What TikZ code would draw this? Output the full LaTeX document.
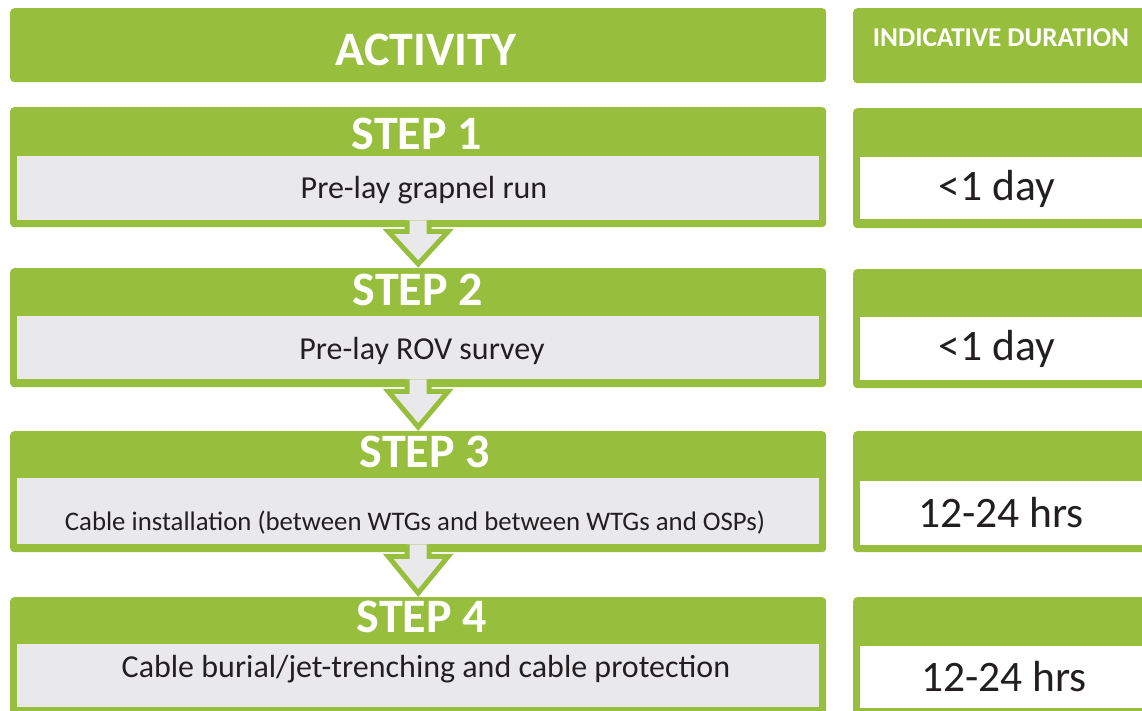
\documentclass[tikz,border=0pt]{standalone}
\usepackage{fontspec}
\setmainfont{Carlito}
\usetikzlibrary{calc}
\definecolor{grn}{HTML}{97BF3D}
\definecolor{lgray}{HTML}{E9E9EB}
\definecolor{txt}{HTML}{231F20}
\begin{document}
\begin{tikzpicture}[x=1pt,y=-1pt,
  greenbox/.style={fill=grn, rounded corners=4pt, inner sep=0pt, anchor=north west},
  graybody/.style={fill=lgray, inner sep=0pt, anchor=north west},
  whitebody/.style={fill=white, inner sep=0pt, anchor=north west},
  headtxt/.style={text=white, inner sep=0pt, font=\bfseries\fontsize{48}{52}\selectfont},
  bodytxt/.style={text=txt, inner sep=0pt, font=\fontsize{32}{36}\selectfont},
  durtxt/.style={text=txt, inner sep=0pt, font=\fontsize{43.5}{48}\selectfont},
  flowarrow/.style={fill=lgray, draw=grn, line width=5pt, line join=miter}]
\useasboundingbox (0,0) rectangle (1142,711);
\clip (0,0) rectangle (1142,711);
\fill[white] (0,0) rectangle (1142,711);

% column headers
\node[greenbox, minimum width=816pt, minimum height=74pt] (acth) at (10,8) {};
\node[headtxt] (actt) at (426,50) {ACTIVITY};
\node[greenbox, minimum width=310pt, minimum height=75pt] (durh) at (853,8) {};
\node[text=white, inner sep=0pt, font=\bfseries\fontsize{27.2}{30}\selectfont] (durt) at (1001,38) {INDICATIVE DURATION};

% step 1
\node[greenbox, minimum width=816pt, minimum height=120pt] (s1) at (10,107) {};
\node[graybody, minimum width=802pt, minimum height=64pt] (s1b) at (17,156) {};
\node[headtxt] (s1h) at (417,134) {STEP 1};
\node[bodytxt] (s1t) at (424,190) {Pre-lay grapnel run};
\node[greenbox, minimum width=310pt, minimum height=120pt] (r1) at (853,108) {};
\node[whitebody, minimum width=300pt, minimum height=62pt] (r1b) at (860,157) {};
\node[durtxt] (r1t) at (997,189) {<1 day};

% step 2
\node[greenbox, minimum width=816pt, minimum height=119pt] (s2) at (10,268) {};
\node[graybody, minimum width=802pt, minimum height=63pt] (s2b) at (17,316) {};
\node[headtxt] (s2h) at (418,290) {STEP 2};
\node[bodytxt] (s2t) at (422,351) {Pre-lay ROV survey};
\node[greenbox, minimum width=310pt, minimum height=119pt] (r2) at (853,269) {};
\node[whitebody, minimum width=300pt, minimum height=63pt] (r2b) at (860,317) {};
\node[durtxt] (r2t) at (997,349) {<1 day};

% step 3
\node[greenbox, minimum width=816pt, minimum height=121pt] (s3) at (10,431) {};
\node[graybody, minimum width=802pt, minimum height=66pt] (s3b) at (17,478) {};
\node[headtxt] (s3h) at (425,452) {STEP 3};
\node[text=txt, inner sep=0pt, font=\fontsize{26.8}{30}\selectfont] (s3t) at (415,523) {Cable installation (between WTGs and between WTGs and OSPs)};
\node[greenbox, minimum width=310pt, minimum height=121pt] (r3) at (853,431) {};
\node[whitebody, minimum width=300pt, minimum height=64pt] (r3b) at (860,481) {};
\node[durtxt] (r3t) at (1001,513) {12-24 hrs};

% step 4
\node[greenbox, minimum width=816pt, minimum height=120pt] (s4) at (10,597) {};
\node[graybody, minimum width=802pt, minimum height=63pt] (s4b) at (17,644) {};
\node[headtxt] (s4h) at (422,617) {STEP 4};
\node[bodytxt] (s4t) at (426,669) {Cable burial/jet-trenching and cable protection};
\node[greenbox, minimum width=310pt, minimum height=120pt] (r4) at (853,597) {};
\node[whitebody, minimum width=300pt, minimum height=62pt] (r4b) at (860,646) {};
\node[durtxt] (r4t) at (1004,677) {12-24 hrs};

% block arrows between steps
\foreach \a/\b/\c in {s1b/s1/s2, s2b/s2/s3, s3b/s3/s4}{
  \path[flowarrow] let \p1=(\a.south), \p2=(\b.south), \p3=(\c.north) in
    (\x1-11pt,\y1) -- (\x1-11pt,\y2-4pt) -- (\x1-30pt,\y2-4pt) -- (\x1,\y3+4pt)
    -- (\x1+30pt,\y2-4pt) -- (\x1+11pt,\y2-4pt) -- (\x1+11pt,\y1);
}
\end{tikzpicture}
\end{document}
